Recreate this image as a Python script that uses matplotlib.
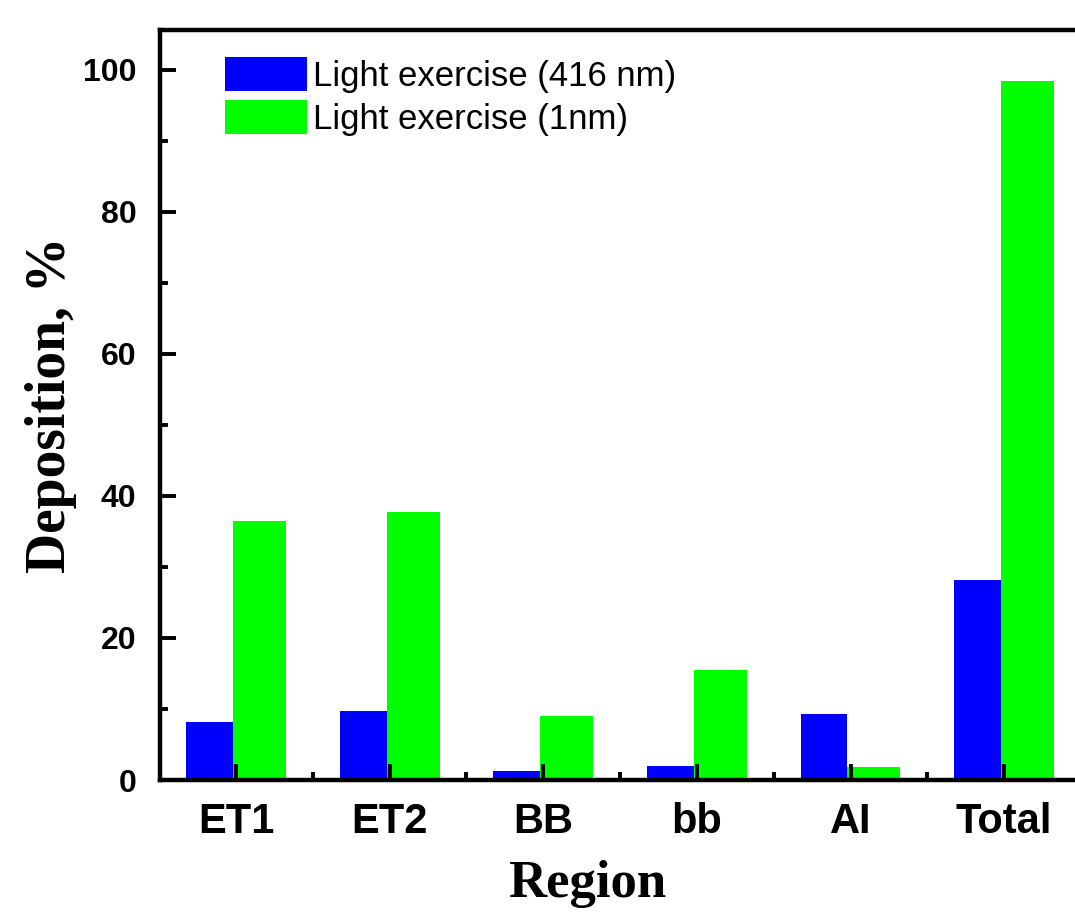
import matplotlib.pyplot as plt
import numpy as np
from matplotlib.ticker import MultipleLocator
from matplotlib.patches import Patch

# Deposition by region, two light-exercise cases
regions = ['ET1', 'ET2', 'BB', 'bb', 'AI', 'Total']
dep_416nm = [8.2, 9.7, 1.3, 2.0, 9.3, 28.2]
dep_1nm = [36.5, 37.7, 9.0, 15.5, 1.8, 98.4]
labels = ['Light exercise (416 nm)', 'Light exercise (1nm)']

blue = '#0000FF'
green = '#00FF00'

fig = plt.figure(figsize=(10.75, 9.16), dpi=100)
ax = fig.add_axes([160/1075, 136/916, (1081-160)/1075, (780-29.5)/916])

x = np.arange(len(regions))
wb, wg, off = 0.305, 0.345, 0.02
ax.bar(x - off - wb/2, dep_416nm, width=wb, color=blue, linewidth=0)
ax.bar(x - off + wg/2, dep_1nm, width=wg, color=green, linewidth=0)

ax.set_xlim(-0.495, 5.5)
ax.set_ylim(0, 105.7)

ax.set_xticks(x)
ax.set_xticklabels(regions, fontfamily='Liberation Sans', fontweight='bold', fontsize=30)
ax.xaxis.set_minor_locator(MultipleLocator(1, offset=0.5))
ax.yaxis.set_major_locator(MultipleLocator(20))
ax.yaxis.set_minor_locator(MultipleLocator(10))
for lab in ax.get_yticklabels():
    lab.set_fontfamily('Liberation Sans')
    lab.set_fontweight('bold')
    lab.set_fontsize(23)

ax.tick_params(which='both', direction='in', width=2.8, top=False, right=False)
ax.tick_params(which='major', length=11.5)
ax.tick_params(which='minor', length=5.5)
ax.tick_params(axis='y', which='major', pad=17)
ax.tick_params(axis='x', which='major', pad=16)
for s in ax.spines.values():
    s.set_linewidth(3.2)

ax.set_xlabel('Region', fontfamily='Liberation Serif', fontweight='bold', fontsize=38)
ax.set_ylabel('Deposition, %', fontfamily='Liberation Serif', fontweight='bold', fontsize=40)
ax.xaxis.set_label_coords(0.5 - 33/921, -80/750.5)
ax.yaxis.set_label_coords(-83/921, 0.5)

handles = [Patch(facecolor=blue, edgecolor='none'), Patch(facecolor=green, edgecolor='none')]
fig.legend(handles, labels, loc='upper left', bbox_to_anchor=(225/1075, 1 - 57/916),
           frameon=False, borderpad=0, borderaxespad=0, handlelength=2.36, handleheight=1.15,
           handletextpad=0.17, labelspacing=0.2,
           prop={'family': 'Liberation Sans', 'size': 25})

fig.savefig('out.png', dpi=100)
